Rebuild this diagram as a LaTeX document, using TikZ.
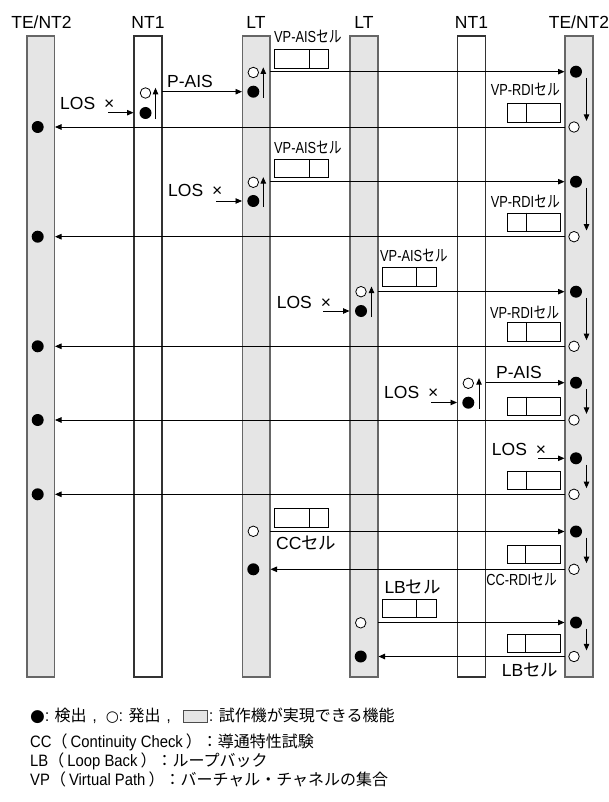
\documentclass[tikz,border=0pt]{standalone}
\usepackage{fontspec}
\setmainfont{Liberation Sans}
\newfontfamily\jp{Noto Sans CJK JP}
\newfontfamily\nar[FakeStretch=0.8]{Liberation Sans}
\newfontfamily\legnar[FakeStretch=0.9]{Liberation Sans}
\newfontfamily\narjp[FakeStretch=0.8]{Noto Sans CJK JP}
\newfontfamily\dv{DejaVu Sans}
\usetikzlibrary{arrows.meta}
\newcommand\bigtxt{\fontsize{17.5}{20}\selectfont}
\newcommand\smtxt{\nar\fontsize{16}{18}\selectfont}
\newcommand\legtxt{\legnar\fontsize{16.5}{19}\selectfont}
\newcommand\J[1]{{\jp\fontsize{16}{19}\selectfont #1}}
\newcommand\BJ[1]{{\jp #1}}
\newcommand\NJ[1]{{\narjp #1}}
\tikzset{
  bar/.style={draw=black!60, line width=1.2pt, fill=black!10, minimum width=27.5pt, minimum height=641pt, anchor=north west, inner sep=0pt, outer sep=0pt},
  wbar/.style={bar, fill=white, draw=black!80},
  fdot/.style={circle, fill=black, minimum size=12pt, inner sep=0pt},
  odot/.style={circle, draw=black, fill=white, line width=0.8pt, minimum size=10.5pt, inner sep=0pt},
  arr/.style={-{Triangle[length=6.5pt,width=5.5pt]}, line width=0.9pt, shorten >=0.5pt},
  cellbox/.style={draw=black, fill=white, line width=0.8pt, minimum width=53.5pt, minimum height=18.4pt, inner sep=0pt, anchor=north west},
  cellline/.style={line width=0.8pt},
  lbl/.style={font=\bigtxt, inner sep=0pt, anchor=base west},
  slbl/.style={font=\smtxt, inner sep=0pt, anchor=base west},
  hlbl/.style={font=\bigtxt, inner sep=0pt, anchor=base},
  legf/.style={font=\legtxt, inner sep=0pt, anchor=base west}
}
\begin{document}
\begin{tikzpicture}[x=1pt,y=-1pt]
\fill[white] (0,0) rectangle (608,802);
\useasboundingbox (0,0) rectangle (608,802);
% bars
\node[bar] (A) at (27,36) {};
\node[wbar, minimum width=28pt] (B) at (134,36) {};
\node[bar] (C) at (242.5,36) {};
\node[bar, minimum width=28pt] (D) at (350,36) {};
\node[wbar, minimum width=28pt] (E) at (457.5,36) {};
\node[bar, minimum width=28pt] (F) at (565,36) {};
% headers
\node[hlbl] (hA) at (41.5,28.5) {TE/NT2};
\node[hlbl] (hB) at (148,28.5) {NT1};
\node[hlbl] (hC) at (256,28.5) {LT};
\node[hlbl] (hD) at (364,28.5) {LT};
\node[hlbl] (hE) at (471.5,28.5) {NT1};
\node[hlbl] (hF) at (579,28.5) {TE/NT2};

% ---------- row 1
\node[odot] (b1o) at (145.5,93) {};
\node[fdot] (b1f) at (145.5,113) {};
\draw[arr] ([xshift=10pt]b1f.south) -- ([xshift=10pt]b1o.north);
\node[lbl] (los1t) at (60,109.5) {LOS\hspace{9pt}×};
\coordinate (los1) at (108,112.7);
\draw[arr] (los1) -- (B.west |- los1);
\node[lbl] (pais1) at (167,87.5) {P-AIS};
\node[odot] (c1o) at (253.3,72.5) {};
\node[fdot] (c1f) at (253.3,91.7) {};
\draw[arr] (B.east |- c1f) -- (C.west |- c1f);
\draw[arr] ([xshift=10pt]c1f.south) -- ([xshift=10pt]c1o.north);
\node[slbl] (vpais1) at (274,42.5) {VP-AIS\NJ{セル}};
\node[cellbox] (cb1) at (274,49.3) {};
\draw[cellline] ([xshift=35pt]cb1.north west) -- ([xshift=35pt]cb1.south west);
\node[fdot] (f1f) at (576,71.7) {};
\draw[arr] (C.east |- f1f) -- (F.west |- f1f);
\node[slbl, anchor=base east] (vprdi1) at (560,95.5) {VP-RDI\NJ{セル}};
\node[cellbox] (cr1) at (506.7,103.3) {};
\draw[cellline] ([xshift=19.3pt]cr1.north west) -- ([xshift=19.3pt]cr1.south west);
\node[odot] (f1o) at (574,127) {};
\draw[arr] ([xshift=10.5pt]f1f.south) -- ([xshift=12.5pt]f1o.north);
\node[fdot] (a1f) at (37.7,127) {};
\draw[arr] (F.west |- f1o) -- (A.east |- f1o);

% ---------- row 2
\node[slbl] (vpais2) at (274,153.5) {VP-AIS\NJ{セル}};
\node[cellbox] (cb2) at (274,158.8) {};
\draw[cellline] ([xshift=35pt]cb2.north west) -- ([xshift=35pt]cb2.south west);
\node[odot] (c2o) at (253.3,182.3) {};
\node[fdot] (c2f) at (253.3,201) {};
\draw[arr] ([xshift=10pt]c2f.south) -- ([xshift=10pt]c2o.north);
\node[lbl] (los2t) at (168,196.4) {LOS\hspace{9pt}×};
\coordinate (los2) at (216,201);
\draw[arr] (los2) -- (C.west |- los2);
\node[fdot] (f2f) at (576,181.7) {};
\draw[arr] (C.east |- f2f) -- (F.west |- f2f);
\node[slbl, anchor=base east] (vprdi2) at (560,207.2) {VP-RDI\NJ{セル}};
\node[cellbox] (cr2) at (506.7,212.7) {};
\draw[cellline] ([xshift=19.3pt]cr2.north west) -- ([xshift=19.3pt]cr2.south west);
\node[odot] (f2o) at (574,236.7) {};
\draw[arr] ([xshift=10.5pt]f2f.south) -- ([xshift=12.5pt]f2o.north);
\node[fdot] (a2f) at (37.7,236.7) {};
\draw[arr] (F.west |- f2o) -- (A.east |- f2o);

% ---------- row 3
\node[slbl] (vpais3) at (380,261.5) {VP-AIS\NJ{セル}};
\node[cellbox] (cb3) at (382.3,267.3) {};
\draw[cellline] ([xshift=34.4pt]cb3.north west) -- ([xshift=34.4pt]cb3.south west);
\node[odot] (d3o) at (361,291.7) {};
\node[fdot] (d3f) at (361,311) {};
\draw[arr] ([xshift=10.5pt]d3f.south) -- ([xshift=10.5pt]d3o.north);
\node[lbl] (los3t) at (276.7,308) {LOS\hspace{9pt}×};
\coordinate (los3) at (323.3,311);
\draw[arr] (los3) -- (D.west |- los3);
\node[fdot] (f3f) at (576,291.7) {};
\draw[arr] (D.east |- f3f) -- (F.west |- f3f);
\node[slbl, anchor=base east] (vprdi3) at (559.3,318.2) {VP-RDI\NJ{セル}};
\node[cellbox] (cr3) at (506.7,322.3) {};
\draw[cellline] ([xshift=19.3pt]cr3.north west) -- ([xshift=19.3pt]cr3.south west);
\node[odot] (f3o) at (574,346.3) {};
\draw[arr] ([xshift=10.5pt]f3f.south) -- ([xshift=12.5pt]f3o.north);
\node[fdot] (a3f) at (37.7,346.3) {};
\draw[arr] (F.west |- f3o) -- (A.east |- f3o);

% ---------- row 4
\node[odot] (e4o) at (468.3,383.3) {};
\node[fdot] (e4f) at (468.3,402.7) {};
\draw[arr] ([xshift=10.7pt]e4f.south) -- ([xshift=10.7pt]e4o.north);
\node[lbl] (pais4) at (496,378) {P-AIS};
\node[fdot] (f4f) at (576,382.7) {};
\draw[arr] (E.east |- f4f) -- (F.west |- f4f);
\node[lbl] (los4t) at (384,398) {LOS\hspace{9pt}×};
\coordinate (los4) at (431,402.5);
\draw[arr] (los4) -- (E.west |- los4);
\node[cellbox] (cr4) at (506.7,396.7) {};
\draw[cellline] ([xshift=19.3pt]cr4.north west) -- ([xshift=19.3pt]cr4.south west);
\node[odot] (f4o) at (574,420) {};
\draw[arr] ([xshift=10.5pt]f4f.south) -- ([xshift=12.5pt]f4o.north);
\node[fdot] (a4f) at (37.7,420) {};
\draw[arr] (F.west |- f4o) -- (A.east |- f4o);

% ---------- row 5
\node[lbl] (los5t) at (491.7,455.4) {LOS\hspace{9pt}×};
\coordinate (los5) at (538.3,458.3);
\node[fdot] (f5f) at (576,458.3) {};
\draw[arr] (los5) -- (F.west |- los5);
\node[cellbox] (cr5) at (506.7,470.7) {};
\draw[cellline] ([xshift=19.3pt]cr5.north west) -- ([xshift=19.3pt]cr5.south west);
\node[odot] (f5o) at (574,494.3) {};
\draw[arr] ([xshift=10.5pt]f5f.south) -- ([xshift=12.5pt]f5o.north);
\node[fdot] (a5f) at (37.7,494.3) {};
\draw[arr] (F.west |- f5o) -- (A.east |- f5o);

% ---------- row 6
\node[cellbox] (cb6) at (274.3,508.3) {};
\draw[cellline] ([xshift=34.7pt]cb6.north west) -- ([xshift=34.7pt]cb6.south west);
\node[odot] (c6o) at (253.3,531.3) {};
\node[fdot] (f6f) at (576,531.5) {};
\draw[arr] (C.east |- f6f) -- (F.west |- f6f);
\node[lbl] (cc6) at (276,549.7) {CC\BJ{セル}};
\node[cellbox] (cr6) at (506.7,545) {};
\draw[cellline] ([xshift=19pt]cr6.north west) -- ([xshift=19pt]cr6.south west);
\node[odot] (f6o) at (574,569.3) {};
\draw[arr] ([xshift=10.5pt]f6f.south) -- ([xshift=12.5pt]f6o.north);
\node[fdot] (c6f) at (253.3,569.3) {};
\draw[arr] (F.west |- f6o) -- (C.east |- f6o);
\node[slbl, anchor=base east] (ccrdi) at (557,585.5) {CC-RDI\NJ{セル}};

% ---------- row 7
\node[lbl] (lb7) at (384.3,593) {LB\BJ{セル}};
\node[cellbox] (cb7) at (382.3,599) {};
\draw[cellline] ([xshift=34.4pt]cb7.north west) -- ([xshift=34.4pt]cb7.south west);
\node[odot] (d7o) at (360.7,622.8) {};
\node[fdot] (f7f) at (576,622.5) {};
\draw[arr] (D.east |- f7f) -- (F.west |- f7f);
\node[cellbox] (cr7) at (506.7,634) {};
\draw[cellline] ([xshift=19pt]cr7.north west) -- ([xshift=19pt]cr7.south west);
\node[odot] (f7o) at (574,656.5) {};
\draw[arr] ([xshift=10.5pt]f7f.south) -- ([xshift=12.5pt]f7o.north);
\node[fdot] (d7f) at (360.7,656.5) {};
\draw[arr] (F.west |- f7o) -- (D.east |- f7o);
\node[lbl] (lb7b) at (501.7,676) {LB\BJ{セル}};

% ---------- legend
\node[legf] (lg1a) at (30,721.5) {{\dv\fontsize{17}{19}\selectfont ●}: \J{検出}\hspace{6pt},\hspace{9pt}{\dv\fontsize{15}{17}\selectfont ○}: \J{発出}\hspace{6pt},};
\node[draw=black!70, fill=black!10, line width=0.8pt, minimum width=24pt, minimum height=12pt, inner sep=0pt, anchor=west] (lgbox) at (183,716) {};
\node[legf] (lg1b) at (209,721.5) {: \J{試作機が実現できる機能}};
\node[legf] (lg2) at (30,747) {CC\J{（}\hspace{3pt}Continuity Check\hspace{3pt}\J{）：導通特性試験}};
\node[legf] (lg3) at (30,766) {LB\J{（}\hspace{3pt}Loop Back\hspace{3pt}\J{）：ループバック}};
\node[legf] (lg4) at (30,785) {VP\J{（}\hspace{3pt}Virtual Path\hspace{3pt}\J{）：バーチャル・チャネルの集合}};
\end{tikzpicture}
\end{document}
